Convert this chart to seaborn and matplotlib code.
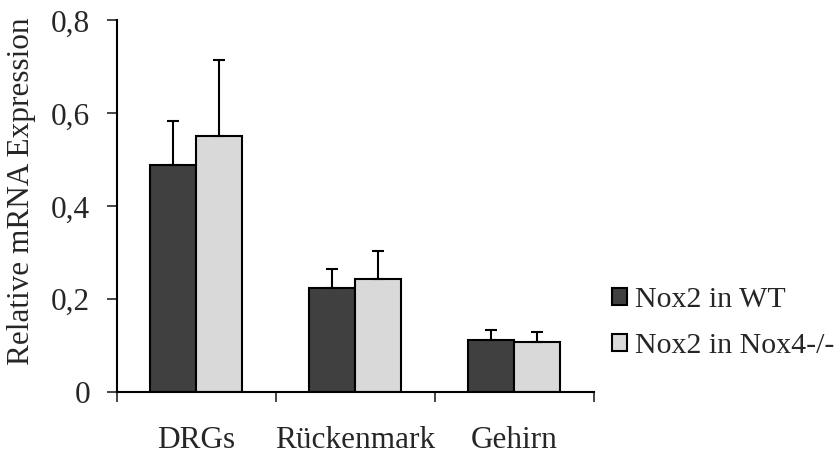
import numpy as np
import pandas as pd
import matplotlib
matplotlib.use('Agg')
import matplotlib.pyplot as plt
import seaborn as sns

# values
tissues = ['DRGs', 'Rückenmark', 'Gehirn']
groups = ['Nox2 in WT', 'Nox2 in Nox4-/-']
wt_mean = [0.488, 0.224, 0.113]
wt_err = [0.095, 0.041, 0.021]
ko_mean = [0.552, 0.244, 0.108]
ko_err = [0.162, 0.060, 0.021]
yticks = [0, 0.2, 0.4, 0.6, 0.8]
ytick_labels = ['0', '0,2', '0,4', '0,6', '0,8']

df = pd.DataFrame({
    'Tissue': tissues * 2,
    'Group': [groups[0]] * 3 + [groups[1]] * 3,
    'Value': wt_mean + ko_mean,
    'Err': wt_err + ko_err,
})

sns.set_style('white')
plt.rcParams['font.family'] = ['Liberation Serif', 'DejaVu Serif']

fig = plt.figure(figsize=(8.34, 4.55), dpi=100)
ax = fig.add_axes([0.140, 0.138, 0.572, 0.817])

colors = {groups[0]: '#404040', groups[1]: '#d9d9d9'}
sns.barplot(data=df, x='Tissue', y='Value', hue='Group', palette=colors,
            order=tissues, hue_order=groups, width=0.58, errorbar=None,
            edgecolor='black', linewidth=1.5, saturation=1, ax=ax)

# upper error bars only, placed on the bar patches seaborn drew
for container, g in zip(ax.containers, groups):
    sub = df[df['Group'] == g].set_index('Tissue').loc[tissues]
    xs = [p.get_x() + p.get_width() / 2 for p in container.patches]
    errs = sub['Err'].values
    ax.errorbar(xs, sub['Value'].values, yerr=[np.zeros_like(errs), errs],
                fmt='none', ecolor='black', elinewidth=1.5, capsize=4.3,
                capthick=1.5, zorder=1)

ax.set_xlim(-0.5, 2.5)
ax.set_ylim(0, 0.8)
ax.set_yticks(yticks)
ax.set_yticklabels(ytick_labels)
ax.set_xticks(np.arange(-0.5, 3, 1.0), minor=True)
ax.tick_params(axis='x', which='major', length=0, pad=24, labelsize=22.5)
ax.tick_params(axis='x', which='minor', length=7, width=1.2, direction='out', bottom=True)
ax.tick_params(axis='y', length=7, width=1.2, direction='out', left=True, pad=12, labelsize=22.5)
ax.set_xlabel('')
ax.set_ylabel('Relative mRNA Expression', fontsize=22.5)
ax.yaxis.set_label_coords(-0.17, 0.54)

sns.despine(ax=ax)
for s in ['left', 'bottom']:
    ax.spines[s].set_color('black')
    ax.spines[s].set_linewidth(1.5)

handles, labels = ax.get_legend_handles_labels()
ax.legend(handles, labels, loc='center left', bbox_to_anchor=(0.72, 0.29),
          bbox_transform=fig.transFigure, frameon=False, fontsize=21.5,
          handlelength=0.5, handleheight=0.5, handletextpad=0.25,
          labelspacing=0.65, borderaxespad=0)

fig.savefig('out.png', dpi=100)
